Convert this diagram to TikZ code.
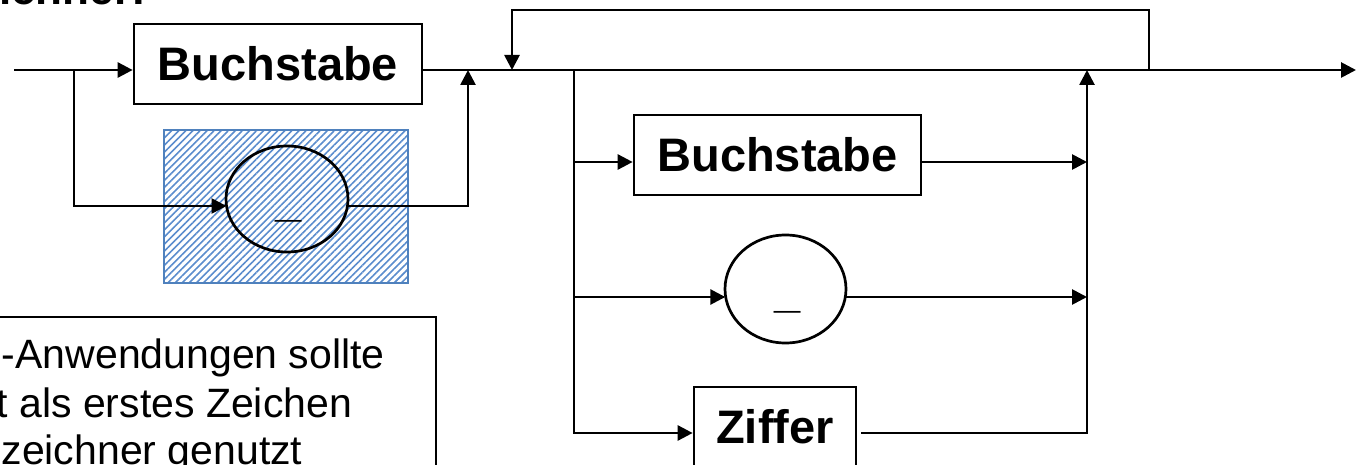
\documentclass[tikz,border=0pt]{standalone}
\usepackage{fontspec}
\setmainfont{Liberation Sans}
\usetikzlibrary{shapes.geometric,arrows.meta,patterns.meta}
\definecolor{hatchborder}{RGB}{79,129,189}
\definecolor{hatchline}{RGB}{90,140,205}
\tikzset{
  ln/.style={line width=2.7pt},
  arr/.style={line width=2.7pt,-{Triangle[length=15pt,width=15pt]}},
  syntaxbox/.style={draw,line width=2.7pt,rectangle,inner sep=0pt,minimum height=80pt,
     font=\fontsize{47}{54}\selectfont\bfseries},
  term/.style={draw,line width=2.7pt,ellipse,inner sep=0pt},
  termtext/.style={anchor=base,font=\fontsize{47}{54}\selectfont\bfseries},
  notetext/.style={anchor=base west,font=\fontsize{41}{47}\selectfont},
}
\begin{document}
\begin{tikzpicture}[x=1pt,y=-1pt]
\useasboundingbox (0,0) rectangle (1357,465);
\clip (0,0) rectangle (1357,465);

% title fragment
\node[anchor=base west,inner sep=0pt,font=\fontsize{44}{50}\selectfont\bfseries] (title) at (-1,5) {ichner:};

% hatched highlight
\node[draw=hatchborder,line width=2pt,pattern={Lines[angle=45,distance=5pt,line width=1.6pt]},
      pattern color=hatchline,minimum width=244pt,minimum height=153pt,inner sep=0pt] (hatch) at (286,206.5) {};

% nodes
\node[syntaxbox,minimum width=288pt] (b1) at (278,64) {Buchstabe};
\node[term,minimum width=122pt,minimum height=106pt] (e1) at (287,199) {};
\node[termtext] (u1) at (289,217) {\_};
\node[syntaxbox,minimum width=287pt] (b2) at (777.5,155) {Buchstabe};
\node[term,minimum width=121pt,minimum height=108pt] (e2) at (785.5,289) {};
\node[termtext] (u2) at (787.5,307) {\_};
\node[syntaxbox,minimum width=162pt] (z) at (775,427) {Ziffer};

% note box
\node[draw,line width=2pt,anchor=north east,minimum width=470pt,minimum height=180pt,inner sep=0pt] (note) at (437,316) {};
\node[notetext] (n1) at (-1.7,368) {-Anwendungen sollte};
\node[notetext] (n2) at (-7,417) {t als erstes Zeichen};
\node[notetext] (n3) at (-2,464) {zeichner genutzt};

% coordinates
\coordinate (start) at (14,70);
\coordinate (j1) at (74,70);
\coordinate (b1in) at (b1.west |- start);
\coordinate (b1out) at (b1.east |- start);
\coordinate (e1in) at (226.5,206);
\coordinate (e1out) at (347.5,206);
\coordinate (m1) at (468,70);
\coordinate (j2) at (512,70);
\coordinate (j3) at (574,70);
\coordinate (m2) at (1087,70);
\coordinate (j4) at (1149,70);
\coordinate (looptop) at (830,10);
\coordinate (finish) at (1356,70);
\coordinate (b2in) at (b2.west |- 0,162);
\coordinate (b2out) at (b2.east |- 0,162);
\coordinate (e2in) at (725.3,297);
\coordinate (e2out) at (845.8,297);
\coordinate (zin) at (z.west |- 0,433);
\coordinate (zout) at (861,433);
\coordinate (c1) at (1087,162);
\coordinate (c2) at (1087,297);

% connectors
\draw[arr] (start) -- (b1in);
\draw[arr] (j1) |- (e1in);
\draw[arr] (e1out) -| (m1);
\draw[arr] (b1out) -- (finish);
\draw[arr] (j4) |- (looptop) -| (j2);
\draw[arr] (j3) |- (b2in);
\draw[arr] (j3) |- (e2in);
\draw[arr] (j3) |- (zin);
\draw[arr] (b2out) -- (c1);
\draw[arr] (e2out) -- (c2);
\draw[arr] (zout) -| (m2);
\end{tikzpicture}
\end{document}
